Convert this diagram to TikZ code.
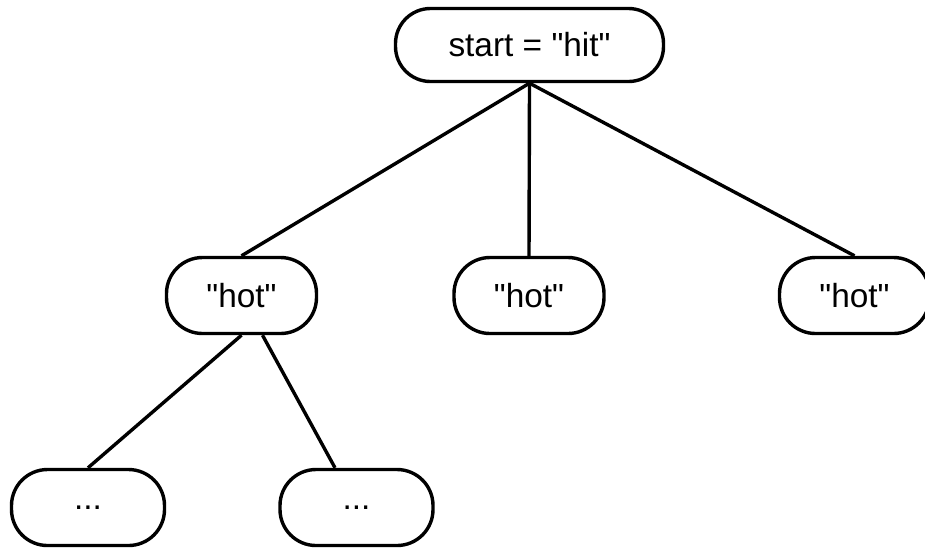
\documentclass[tikz,border=0pt]{standalone}
\usepackage{fontspec}
\setmainfont{Liberation Sans}[Ligatures=TeXOff]
\usetikzlibrary{positioning}
\tikzset{
  every picture/.style={line width=1.7pt},
  pstate/.style={draw, rounded corners=18pt, minimum width=75pt, minimum height=38pt, inner sep=0pt},
  every node/.style={font=\fontsize{16.7}{20}\selectfont}
}
\begin{document}
\begin{tikzpicture}[x=0.5pt, y=-0.5pt]
    \useasboundingbox (0,0) rectangle (925,548);

    \node [pstate, minimum width=134pt, minimum height=36.5pt, rounded corners=17.5pt] (start) at (529.5,45) {start = "hit"};

    \node [pstate] (hot1) at (241.5,295.5) {"hot"};
    \node [pstate] (hot2) at (529,295.5) {"hot"};
    \node [pstate] (hot3) at (854.5,295.5) {"hot"};

    \node [pstate, minimum width=76.5pt] (dots1) at (88,507.5) {...};
    \node [pstate, minimum width=76.5pt] (dots2) at (356.5,507.5) {...};

    \draw(start.south) edge (hot1.north);
    \draw(start.south) edge (hot2.north);
    \draw(start.south) edge (hot3.north);

    \draw(hot1.south) edge (dots1.north);
    \draw([xshift=10.5pt]hot1.south) edge ([xshift=-10.75pt]dots2.north);
  \end{tikzpicture}
\end{document}
